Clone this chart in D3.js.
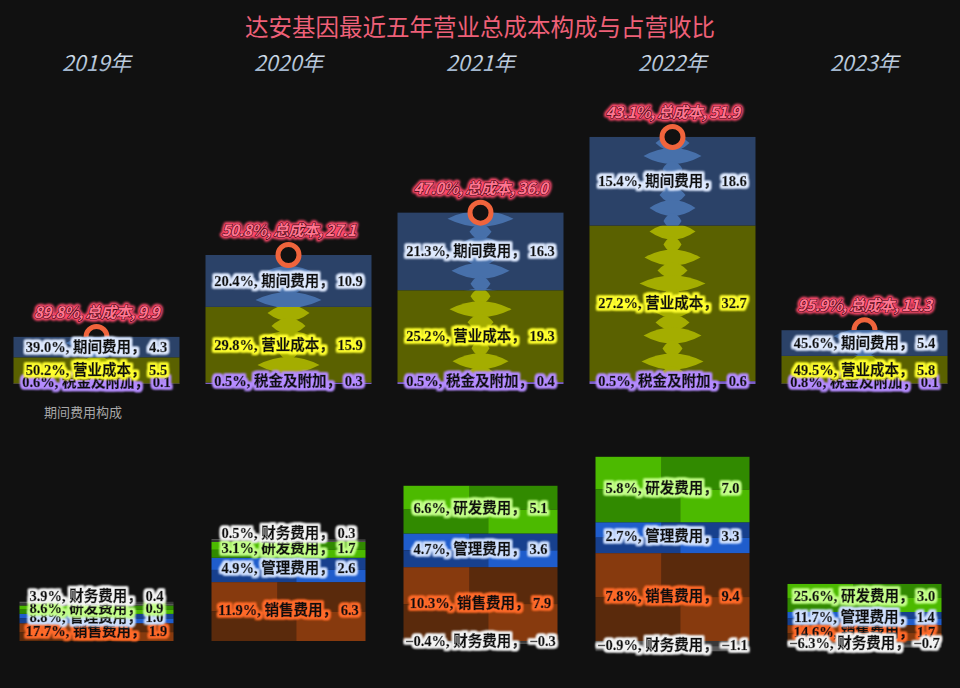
<!DOCTYPE html>
<html><head><meta charset="utf-8">
<script src="https://cdn.jsdelivr.net/npm/d3@7/dist/d3.min.js"></script>
<style>html,body{margin:0;padding:0;background:#111111;}svg{display:block;}</style>
</head><body><div id="chart"></div>
<script>
const years = ['2019年','2020年','2021年','2022年','2023年'];
const totalCost = [9.9, 27.1, 36.0, 51.9, 11.3];
const totalPct = [89.8, 50.8, 47.0, 43.1, 95.9];
const taxVal = [0.1, 0.3, 0.4, 0.6, 0.1];
const taxPct = [0.6, 0.5, 0.5, 0.5, 0.8];
const costVal = [5.5, 15.9, 19.3, 32.7, 5.8];
const costPct = [50.2, 29.8, 25.2, 27.2, 49.5];
const periodVal = [4.3, 10.9, 16.3, 18.6, 5.4];
const periodPct = [39.0, 20.4, 21.3, 15.4, 45.6];
const salesVal = [1.9, 6.3, 7.9, 9.4, 1.7];
const salesPct = [17.7, 11.9, 10.3, 7.8, 14.6];
const mgmtVal = [1.0, 2.6, 3.6, 3.3, 1.4];
const mgmtPct = [8.8, 4.9, 4.7, 2.7, 11.7];
const rdVal = [0.9, 1.7, 5.1, 7.0, 3.0];
const rdPct = [8.6, 3.1, 6.6, 5.8, 25.6];
const finVal = [0.4, 0.3, -0.3, -1.1, -0.7];
const finPct = [3.9, 0.5, -0.4, -0.9, -6.3];
const topNames = {tax:'税金及附加', cost:'营业成本', period:'期间费用'};
const botNames = {sales:'销售费用', mgmt:'管理费用', rd:'研发费用', fin:'财务费用'};

const W = 960, H = 688;
const svg = d3.select('#chart').append('svg').attr('width', W).attr('height', H);
svg.append('rect').attr('width', W).attr('height', H).attr('fill', '#111111');
const defs = svg.append('defs');

function glow(id, color, r, sd) {
  const f = defs.append('filter').attr('id', id).attr('x', '-20%').attr('y', '-60%').attr('width', '140%').attr('height', '220%');
  f.append('feMorphology').attr('in', 'SourceAlpha').attr('operator', 'dilate').attr('radius', r).attr('result', 'd');
  f.append('feGaussianBlur').attr('in', 'd').attr('stdDeviation', sd).attr('result', 'b');
  f.append('feFlood').attr('flood-color', color).attr('result', 'c');
  f.append('feComposite').attr('in', 'c').attr('in2', 'b').attr('operator', 'in').attr('result', 'g');
  const m = f.append('feMerge');
  m.append('feMergeNode').attr('in', 'g');
  m.append('feMergeNode').attr('in', 'g');
  m.append('feMergeNode').attr('in', 'SourceGraphic');
}
glow('gPeriod', '#dfeaff', 1.5, 1.2);
glow('gCost', '#ffff30', 1.5, 1.2);
glow('gTax', '#b58cff', 1.5, 1.2);
glow('gFin', '#f4f4f4', 1.5, 1.2);
glow('gRd', '#c4ff8a', 1.5, 1.2);
glow('gMgmt', '#cfe0ff', 1.5, 1.2);
glow('gSales', '#ff6a2a', 1.5, 1.2);
defs.append('filter').attr('id', 'blurHalo').attr('x', '-20%').attr('y', '-60%').attr('width', '140%').attr('height', '220%')
  .append('feGaussianBlur').attr('stdDeviation', 1.3);

const yg = defs.append('linearGradient').attr('id', 'yearGrad').attr('x1', 0).attr('y1', 0).attr('x2', 0).attr('y2', 1);
yg.append('stop').attr('offset', '0%').attr('stop-color', '#eef4fb');
yg.append('stop').attr('offset', '100%').attr('stop-color', '#8ea6c2');

const x = d3.scaleBand().domain(years).range([0, W]);
const cx = d => x(d) + x.bandwidth() / 2 + 0.5;
const yTop = d3.scaleLinear().domain([0, 52]).range([384, 384 - 52 * 4.76]);
const yBot = d3.scaleLinear().domain([-2, 20]).range([641 + 2 * 9.35, 641 - 20 * 9.35]);

// title
svg.append('text').attr('x', 480).attr('y', 26).attr('text-anchor', 'middle').attr('dominant-baseline', 'central')
  .attr('font-family', '"Noto Sans CJK SC", sans-serif').attr('font-size', 23.5).attr('fill', '#ee6078')
  .text('达安基因最近五年营业总成本构成与占营收比');

// year labels
svg.selectAll('.yr').data(years).enter().append('text')
  .attr('x', d => cx(d)).attr('y', 61).attr('text-anchor', 'middle').attr('dominant-baseline', 'central')
  .attr('font-family', '"Noto Sans CJK SC", sans-serif').attr('font-style', 'italic').attr('font-size', 21.5)
  .attr('fill', 'url(#yearGrad)').text(d => d);

svg.append('text').attr('x', 83).attr('y', 411).attr('text-anchor', 'middle').attr('dominant-baseline', 'central')
  .attr('font-family', '"Noto Sans CJK SC", sans-serif').attr('font-size', 13).attr('fill', '#a8a8a8').text('期间费用构成');

// ---- top stacks
const topRows = years.map((y, i) => ({year: y, i, tax: taxVal[i], cost: costVal[i], period: periodVal[i]}));
const topStack = d3.stack().keys(['tax', 'cost', 'period'])(topRows);
const topFill = {tax: '#7b5ec8', cost: '#5a6100', period: '#2b4268'};
const lensFill = {cost: '#a4ad00', period: '#4770aa'};
const lensW = [62, 26, 46, 18, 56, 30, 66, 22, 42, 34, 58, 20];
const topBarW = 166;

const ringData = years.map((y, i) => ({year: y, v: totalCost[i], p: totalPct[i]}));
const ringBehind = d => d.v < 15;
function drawRings(sel) {
  sel.attr('cx', d => cx(d.year)).attr('cy', d => yTop(d.v)).attr('r', 10.5)
    .attr('fill', '#111111').attr('stroke', '#f0643c').attr('stroke-width', 5);
}
svg.selectAll('.ringB').data(ringData.filter(ringBehind)).enter().append('circle').call(drawRings);

let clipN = 0;
topStack.forEach(layer => {
  const key = layer.key;
  layer.forEach(seg => {
    const yr = seg.data.year;
    const x0 = cx(yr) - topBarW / 2;
    const yT = yTop(seg[1]), yB = yTop(seg[0]);
    svg.append('rect').attr('x', x0).attr('y', yT).attr('width', topBarW).attr('height', Math.max(0, yB - yT)).attr('fill', topFill[key]);
    if (lensFill[key] && yB - yT > 4) {
      const id = 'clip' + (clipN++);
      defs.append('clipPath').attr('id', id).append('rect').attr('x', x0).attr('y', yT).attr('width', topBarW).attr('height', yB - yT);
      const g = svg.append('g').attr('clip-path', `url(#${id})`);
      let k = seg.data.i * 3 + (key === 'cost' ? 5 : 0);
      for (let yy = yT + 6; yy < yB + 8; yy += 13) {
        const w = lensW[k % lensW.length]; k++;
        const c = cx(yr), h = 16;
        const p = d3.path();
        p.moveTo(c - w / 2, yy);
        p.quadraticCurveTo(c, yy - h, c + w / 2, yy);
        p.quadraticCurveTo(c, yy + h, c - w / 2, yy);
        p.closePath();
        g.append('path').attr('d', p.toString()).attr('fill', lensFill[key]);
      }
    }
  });
});

svg.selectAll('.ringF').data(ringData.filter(d => !ringBehind(d))).enter().append('circle').call(drawRings);

// ---- bottom stacks
const botRows = years.map((y, i) => ({year: y, i, sales: salesVal[i], mgmt: mgmtVal[i], rd: rdVal[i], fin: finVal[i]}));
const botStack = d3.stack().keys(['sales', 'mgmt', 'rd', 'fin']).offset(d3.stackOffsetDiverging)(botRows);
const botLight = {sales: '#873a0e', mgmt: '#1f5dcc', rd: '#4cba00', fin: '#585858'};
const botDark = {sales: '#5a2a0c', mgmt: '#17408e', rd: '#318a00', fin: '#383838'};
const botBarW = 154;
botStack.forEach(layer => {
  const key = layer.key;
  layer.forEach(seg => {
    const yr = seg.data.year;
    const x0 = cx(yr) - botBarW / 2;
    const yT = Math.min(yBot(seg[1]), yBot(seg[0])), yB = Math.max(yBot(seg[1]), yBot(seg[0]));
    const mid = (yT + yB) / 2;
    const s1 = botBarW * 0.43, s2 = botBarW * 0.55;
    const g = svg.append('g');
    g.append('rect').attr('x', x0).attr('y', yT).attr('width', s1).attr('height', mid - yT).attr('fill', botLight[key]);
    g.append('rect').attr('x', x0 + s1).attr('y', yT).attr('width', botBarW - s1).attr('height', mid - yT).attr('fill', botDark[key]);
    g.append('rect').attr('x', x0).attr('y', mid).attr('width', s2).attr('height', yB - mid).attr('fill', botDark[key]);
    g.append('rect').attr('x', x0 + s2).attr('y', mid).attr('width', botBarW - s2).attr('height', yB - mid).attr('fill', botLight[key]);
  });
});

// ---- labels
const fmt1 = d3.format('.1f');
const labelFont = '"Liberation Serif", "Noto Sans CJK SC", serif';
function segLabel(sel, glowId) {
  sel.attr('text-anchor', 'middle').attr('dominant-baseline', 'central')
    .attr('font-family', labelFont).attr('font-weight', 'bold').attr('font-size', 14.5)
    .attr('fill', '#111').attr('stroke', '#111').attr('stroke-width', 0.5)
    .attr('filter', `url(#${glowId})`);
}
const topPct = {tax: taxPct, cost: costPct, period: periodPct};
const topGlow = {tax: 'gTax', cost: 'gCost', period: 'gPeriod'};
topStack.forEach(layer => {
  const key = layer.key;
  layer.forEach(seg => {
    const i = seg.data.i;
    const yc = (yTop(seg[0]) + yTop(seg[1])) / 2 - (key === 'tax' ? 2 : 0);
    svg.append('text').attr('x', cx(seg.data.year)).attr('y', yc).call(segLabel, topGlow[key])
      .text(`${fmt1(topPct[key][i])}%, ${topNames[key]}， ${fmt1(seg.data[key])}`);
  });
});
const botPct = {sales: salesPct, mgmt: mgmtPct, rd: rdPct, fin: finPct};
const botGlow = {sales: 'gSales', mgmt: 'gMgmt', rd: 'gRd', fin: 'gFin'};
botStack.forEach(layer => {
  const key = layer.key;
  layer.forEach(seg => {
    const i = seg.data.i;
    const v = seg.data[key];
    let yc = (yBot(seg[0]) + yBot(seg[1])) / 2 - 1.5;
    if (key === 'fin' && v > 0) yc -= 6;
    svg.append('text').attr('x', cx(seg.data.year)).attr('y', yc).call(segLabel, botGlow[key])
      .text(`${fmt1(botPct[key][i])}%, ${botNames[key]}， ${fmt1(v)}`);
  });
});

// total labels: halo + crisp text
function totLabel(sel) {
  sel.attr('x', d => cx(d.year)).attr('y', d => yTop(d.v) - 26)
    .attr('text-anchor', 'middle').attr('dominant-baseline', 'central')
    .attr('font-family', '"Noto Sans CJK SC", sans-serif').attr('font-style', 'italic')
    .attr('font-weight', 'bold').attr('font-size', 15.5)
    .attr('letter-spacing', -0.6)
    .text(d => `${fmt1(d.p)}%, 总成本, ${fmt1(d.v)}`);
}
svg.selectAll('.totH').data(ringData).enter().append('text').call(totLabel)
  .attr('fill', '#ff4a6c').attr('stroke', '#ff4a6c').attr('stroke-width', 5).attr('stroke-linejoin', 'round')
  .attr('filter', 'url(#blurHalo)');
svg.selectAll('.tot').data(ringData).enter().append('text').call(totLabel)
  .attr('fill', '#ff7590').attr('stroke', '#3a0610').attr('stroke-width', 1.2).attr('stroke-linejoin', 'round')
  .attr('paint-order', 'stroke');
</script></body></html>
